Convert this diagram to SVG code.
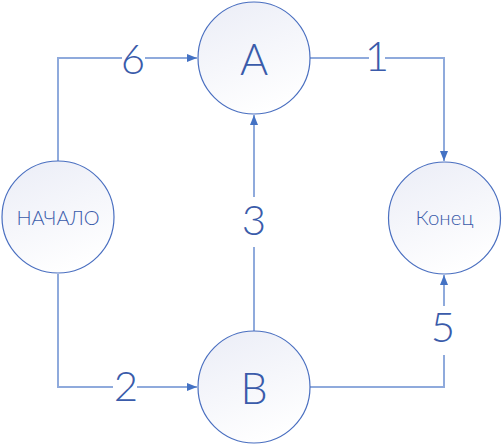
<svg xmlns="http://www.w3.org/2000/svg" width="502" height="445" viewBox="0 0 502 445">
<defs>
<linearGradient id="g" x1="0.2" y1="0" x2="0.6" y2="1">
<stop offset="0" stop-color="#ECEEF7"/>
<stop offset="1" stop-color="#FFFFFF"/>
</linearGradient>
<marker id="ar" viewBox="0 0 10 10" refX="10" refY="5" markerWidth="10" markerHeight="10" markerUnits="userSpaceOnUse" orient="auto">
<path d="M0,1 L10,5 L0,9 Z" fill="#4472C4"/>
</marker>
<style>
.e{fill:none;stroke:#8FAADC;stroke-width:2}
.n{fill:url(#g);stroke:#4A6FC0;stroke-width:1.2}
.t{font-family:Lato,"Open Sans","Liberation Sans",sans-serif;font-weight:300;fill:#3A5BAA;text-anchor:middle;dominant-baseline:central}
.l{font-size:42px}
.bg{fill:#FFFFFF}
</style>
</defs>
<rect width="502" height="445" fill="#FFFFFF"/>
<g id="connectors">
<path class="e" d="M58,161 V58 H197" marker-end="url(#ar)"/>
<path class="e" d="M58,274 V387 H197" marker-end="url(#ar)"/>
<path class="e" d="M254,331 V115" marker-end="url(#ar)"/>
<path class="e" d="M310,58 H444 V161" marker-end="url(#ar)"/>
<path class="e" d="M310,387 H444 V275" marker-end="url(#ar)"/>
<rect class="bg" x="122" y="40" width="23" height="36"/>
<text class="t l" x="133" y="58">6</text>
<rect class="bg" x="369" y="40" width="16" height="36"/>
<text class="t l" x="377" y="55">1</text>
<rect class="bg" x="113" y="369" width="24" height="36"/>
<text class="t l" x="126" y="385">2</text>
<rect class="bg" x="236" y="197" width="36" height="50"/>
<text class="t l" x="254" y="219">3</text>
<rect class="bg" x="428" y="306" width="32" height="49"/>
<text class="t l" x="443" y="326">5</text>
</g>
<g id="node-start">
<circle class="n" cx="58" cy="217" r="56"/>
<text class="t" x="58" y="217" font-size="20">НАЧАЛО</text>
</g>
<g id="node-A">
<circle class="n" cx="254" cy="58" r="56"/>
<text class="t" x="254" y="58" font-size="43">A</text>
</g>
<g id="node-B">
<circle class="n" cx="254" cy="387" r="56"/>
<text class="t" x="254" y="387" font-size="43">B</text>
</g>
<g id="node-end">
<circle class="n" cx="444.5" cy="218" r="56"/>
<text class="t" x="444.5" y="217" font-size="20.5">Конец</text>
</g>
</svg>
